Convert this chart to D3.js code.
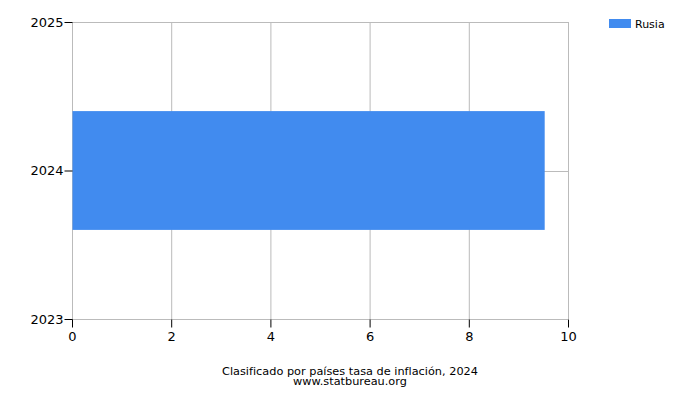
<!DOCTYPE html>
<html lang="es">
<head>
<meta charset="utf-8">
<title>Rusia inflación 2024</title>
<script src="https://cdnjs.cloudflare.com/ajax/libs/d3/7.8.5/d3.min.js"></script>
<style>
    body { margin: 0; background: #fff; }
    text { font-family: "DejaVu Sans", sans-serif; fill: #000; }
    .grid line { stroke: #bbbbbb; stroke-width: 1; }
    .axis path { display: none; }
    .axis line { stroke: #000; }
</style>
</head>
<body>
<div id="chart"></div>
<script>
    // data
    var countries = ["Rusia"];
    var years = [2024];
    var values = [9.52];
    var xTicks = [0, 2, 4, 6, 8, 10];
    var yTicks = [2023, 2024, 2025];
    var colors = ["#418bef"];
    var title = "Clasificado por países tasa de inflación, 2024";
    var source = "www.statbureau.org";

    var width = 700, height = 400;
    var plotLeft = 72, plotRight = 568, plotTop = 22, plotBottom = 319;

    var svg = d3.select("#chart").append("svg")
        .attr("width", width)
        .attr("height", height);

    var x = d3.scaleLinear().domain([0, 10]).range([plotLeft, plotRight]);
    var y = d3.scaleLinear().domain([2023, 2025]).range([plotBottom, plotTop]);

    // grid
    var grid = svg.append("g").attr("class", "grid");
    grid.selectAll("line.v").data(xTicks).enter().append("line")
        .attr("x1", d => x(d) + 0.5).attr("x2", d => x(d) + 0.5)
        .attr("y1", plotTop).attr("y2", plotBottom);
    grid.selectAll("line.h").data(yTicks).enter().append("line")
        .attr("x1", plotLeft).attr("x2", plotRight)
        .attr("y1", d => Math.round(y(d)) + 0.5).attr("y2", d => Math.round(y(d)) + 0.5);

    // bars
    var band = (y(2023) - y(2024)) * 0.8;
    svg.selectAll("rect.bar").data(values).enter().append("rect")
        .attr("class", "bar")
        .attr("x", x(0) + 0.5)
        .attr("y", (d, i) => y(years[i]) - band / 2)
        .attr("width", d => x(d) - x(0))
        .attr("height", band)
        .attr("fill", (d, i) => colors[i]);

    // axes
    svg.append("g").attr("class", "axis")
        .attr("transform", "translate(0," + (plotBottom + 0.5) + ")")
        .call(d3.axisBottom(x).tickValues(xTicks).tickSize(8).tickPadding(4).tickFormat(d3.format("d")))
        .selectAll("text").style("font-size", "13px").attr("fill", "#000");

    svg.append("g").attr("class", "axis")
        .attr("transform", "translate(" + (plotLeft + 0.5) + ",0)")
        .call(d3.axisLeft(y).tickValues(yTicks).tickSize(8).tickPadding(1).tickFormat(d3.format("d")))
        .selectAll("text").style("font-size", "13px").attr("fill", "#000");

    // legend
    var legend = svg.append("g");
    countries.forEach(function(c, i) {
        legend.append("rect")
            .attr("x", 609).attr("y", 19 + i * 18)
            .attr("width", 22).attr("height", 9)
            .attr("fill", colors[i]);
        legend.append("text")
            .attr("x", 635).attr("y", 28 + i * 18)
            .style("font-size", "11px")
            .text(c);
    });

    // title
    svg.append("text")
        .attr("x", 350).attr("y", 375)
        .attr("text-anchor", "middle")
        .style("font-size", "11.3px")
        .text(title);
    svg.append("text")
        .attr("x", 350).attr("y", 385)
        .attr("text-anchor", "middle")
        .style("font-size", "11.3px")
        .text(source);
</script>
</body>
</html>
